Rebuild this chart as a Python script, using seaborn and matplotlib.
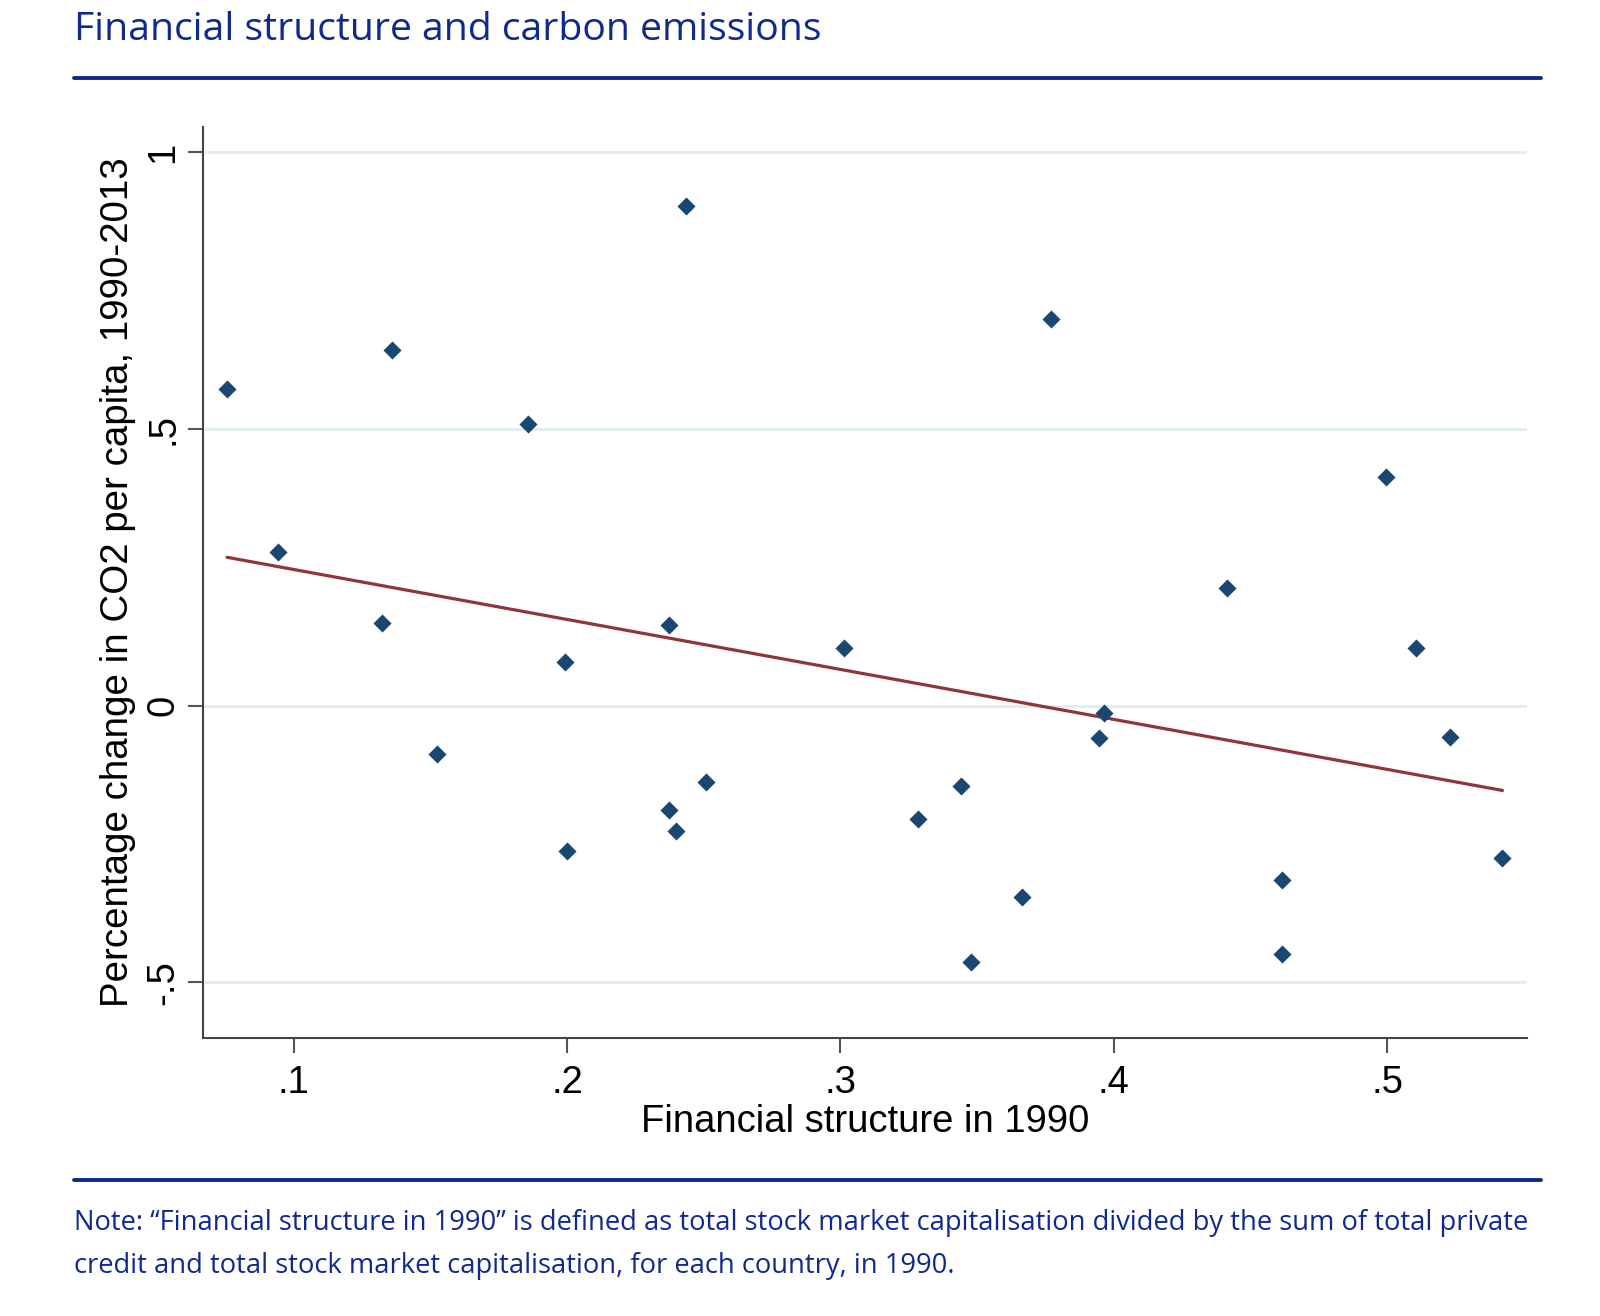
import numpy as np
import pandas as pd
import matplotlib
matplotlib.use("Agg")
import matplotlib.pyplot as plt
from matplotlib.lines import Line2D
import seaborn as sns

# ---- data ----
fin_structure = [0.0757, 0.0944, 0.1359, 0.1325, 0.1523, 0.1856, 0.1994, 0.2002,
                 0.2436, 0.2372, 0.2372, 0.2398, 0.2507, 0.3015, 0.3284, 0.3441,
                 0.3479, 0.3665, 0.3770, 0.3946, 0.3964, 0.4413, 0.4615, 0.4615,
                 0.4996, 0.5105, 0.5232, 0.5422]
co2_change = [0.573, 0.278, 0.643, 0.149, -0.087, 0.508, 0.079, -0.263,
              0.902, 0.145, -0.188, -0.227, -0.138, 0.105, -0.204, -0.145,
              -0.464, -0.346, 0.698, -0.059, -0.013, 0.212, -0.315, -0.449,
              0.414, 0.105, -0.057, -0.276]
x_ticks = [0.1, 0.2, 0.3, 0.4, 0.5]
x_tick_labels = [".1", ".2", ".3", ".4", ".5"]
y_ticks = [-0.5, 0, 0.5, 1]
y_tick_labels = ["-.5", "0", ".5", "1"]

title = "Financial structure and carbon emissions"
x_label = "Financial structure in 1990"
y_label = "Percentage change in CO2 per capita, 1990-2013"
note_lines = [
    "Note: \u201cFinancial structure in 1990\u201d is defined as total stock market capitalisation divided by the sum of total private",
    "credit and total stock market capitalisation, for each country, in 1990.",
]

# ---- style ----
sns.set_theme(style="white")
plt.rcParams["font.family"] = ["Liberation Sans", "DejaVu Sans"]

BLUE = "#10298f"
NAVY = "#1a476f"
MAROON = "#90353b"

W, H = 1600, 1316
fig = plt.figure(figsize=(W / 100, H / 100), dpi=100)
fig.patch.set_facecolor("white")

ax_l, ax_r, ax_t, ax_b = 203.3, 1526.5, 127.3, 1037.7
ax = fig.add_axes([ax_l / W, 1 - ax_b / H, (ax_r - ax_l) / W, (ax_b - ax_t) / H])

df = pd.DataFrame({"fin": fin_structure, "co2": co2_change})
sns.regplot(
    data=df, x="fin", y="co2", ax=ax, ci=None, marker="D", truncate=True,
    scatter_kws=dict(s=85, color=NAVY, linewidths=0, zorder=3, alpha=1),
    line_kws=dict(color=MAROON, lw=2.3, zorder=2),
)

ax.set_xlim(0.067, 0.551)
ax.set_ylim(-0.600, 1.045)
ax.set_xticks(x_ticks)
ax.set_xticklabels(x_tick_labels)
ax.set_yticks(y_ticks)
ax.set_yticklabels(y_tick_labels, rotation=90, va="center")

ax.yaxis.grid(True, color="#e3edf0", lw=2.2)
ax.xaxis.grid(False)
ax.set_axisbelow(True)

for s in ["top", "right"]:
    ax.spines[s].set_visible(False)
for s in ["left", "bottom"]:
    ax.spines[s].set_color("#444444")
    ax.spines[s].set_linewidth(1.5)

ax.tick_params(axis="both", which="major", bottom=True, left=True, direction="out",
               length=11, width=1.5, color="#555555", labelsize=27.5,
               labelcolor="black")
ax.tick_params(axis="x", pad=9)
ax.tick_params(axis="y", pad=5)
for lab in ax.get_yticklabels():
    lab.set_va("center")

ax.set_xlabel(x_label, fontsize=27.5, color="black", va="baseline")
ax.xaxis.set_label_coords(0.5, -(1131.7 - ax_b) / (ax_b - ax_t))
ax.set_ylabel(y_label, fontsize=27.7, color="black", va="baseline")
ax.yaxis.set_label_coords((128 - ax_l) / (ax_r - ax_l), 0.5)

# ---- page decorations ----
fig.text(74 / W, 1 - 40 / H, title, family=["Open Sans", "DejaVu Sans"],
         fontsize=28.2, color=BLUE, va="baseline", ha="left")
fig.add_artist(Line2D([74 / W, 1541 / W], [1 - 77.5 / H] * 2,
                      transform=fig.transFigure, color=BLUE, lw=2.8))
fig.add_artist(Line2D([74 / W, 1541 / W], [1 - 1180 / H] * 2,
                      transform=fig.transFigure, color=BLUE, lw=2.8))
for i, line in enumerate(note_lines):
    fig.text(74 / W, 1 - (1230 + 43 * i) / H, line, family=["Open Sans", "DejaVu Sans"],
             fontsize=19.7, color=BLUE, va="baseline", ha="left")

fig.savefig("out.png", dpi=100, facecolor="white")
